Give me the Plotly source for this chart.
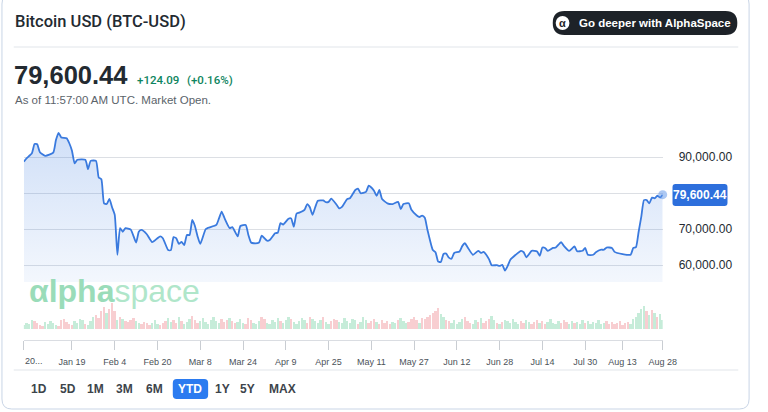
import numpy as np
import pandas as pd
import plotly.graph_objects as go

W, H = 768, 412

# price line (days after Jan 1)
day_offsets = [0, 1, 3, 4, 5, 6, 8, 11, 12, 13, 14, 16, 17, 18, 19, 20, 23, 24, 25, 27,
               28, 29, 30, 31, 32, 33, 34, 35, 36, 37, 38, 40, 42, 43, 44, 46, 48, 50, 51, 52,
               54, 55, 56, 57, 58, 59, 60, 61, 62, 63, 64, 65, 66, 68, 69, 72, 73, 74, 75, 77,
               78, 80, 81, 83, 84, 85, 86, 88, 89, 91, 92, 94, 95, 96, 97, 99, 100, 101, 102, 103,
               105, 106, 107, 108, 109, 110, 112, 113, 114, 115, 117, 118, 119, 121, 122, 124, 125, 126, 128, 129,
               130, 131, 132, 133, 134, 136, 138, 140, 141, 142, 144, 145, 147, 148, 149, 150, 151, 153, 154, 155,
               156, 157, 158, 159, 160, 161, 163, 164, 165, 166, 168, 170, 171, 172, 174, 175, 177, 178, 179, 180,
               181, 182, 184, 186, 187, 188, 190, 192, 193, 194, 195, 196, 198, 199, 201, 202, 204, 206, 207, 209,
               210, 211, 213, 214, 216, 217, 218, 220, 221, 224, 227, 228, 229, 230, 231, 232, 233, 234, 235, 236,
               237, 238, 239]
prices = [88780, 89700, 91100, 93700, 93600, 91400, 90400, 91300, 94800, 96800, 95500, 95300, 93900, 91800, 88300, 89300, 89300, 86700, 89000, 89000,
          84400, 83900, 77200, 77000, 78400, 76100, 74000, 62900, 70300, 69300, 70300, 69900, 66300, 69300, 69800, 68600, 66400, 67500, 68000, 67500,
          64200, 64200, 67800, 67500, 65900, 66500, 65600, 68400, 68400, 72600, 70900, 68000, 65900, 70000, 70400, 71200, 73000, 74900, 73200, 70300,
          70600, 68000, 70900, 71200, 68400, 66300, 66100, 66300, 68200, 66800, 67000, 68900, 69000, 71700, 71300, 72900, 73000, 70700, 74300, 74600,
          75400, 77000, 76100, 74000, 76100, 77900, 78000, 77500, 77600, 78500, 76800, 75800, 76200, 78400, 78600, 80900, 81300, 80000, 80400, 82100,
          81600, 80700, 79300, 80900, 78400, 77200, 77000, 77600, 75600, 77000, 77200, 75400, 73800, 73400, 73800, 73200, 69800, 64200, 63600, 61000,
          60900, 63100, 63200, 62100, 61800, 63400, 63800, 65300, 66100, 65000, 62900, 64000, 63400, 63700, 61700, 60000, 60000, 59800, 60100, 58500,
          59800, 61500, 62900, 64000, 63600, 62200, 64000, 63800, 62600, 64900, 64800, 64000, 64800, 64900, 66400, 65400, 64000, 65200, 63900, 64000,
          64800, 62900, 62900, 63600, 64300, 64300, 64900, 64800, 63700, 63100, 62900, 64800, 65000, 69300, 73500, 78100, 78100, 77200, 78800, 78600,
          79300, 78800, 79600.44]
assert len(day_offsets) == len(prices)

# daily volume bars (relative heights)
volume = [4, 6, 5, 9, 8, 6, 4, 3, 7, 5, 8, 6, 4, 3, 9, 10, 7, 5, 4, 8,
          6, 10, 9, 5, 4, 8, 12, 14, 11, 18, 22, 16, 20, 26, 18, 9, 12, 10, 8, 7,
          9, 11, 8, 6, 5, 7, 6, 4, 6, 9, 5, 4, 6, 8, 11, 7, 9, 6, 12, 8,
          5, 7, 10, 13, 9, 6, 8, 11, 7, 5, 9, 12, 8, 6, 10, 7, 9, 11, 8, 6,
          7, 10, 6, 5, 11, 9, 6, 5, 8, 12, 10, 6, 5, 9, 7, 11, 8, 6, 9, 12,
          10, 7, 5, 8, 11, 9, 6, 12, 10, 8, 6, 9, 12, 7, 5, 8, 10, 9, 7, 6,
          11, 8, 6, 10, 9, 5, 7, 12, 9, 6, 8, 10, 7, 5, 9, 6, 8, 5, 7, 6,
          9, 11, 8, 6, 7, 10, 12, 9, 6, 11, 10, 12, 14, 16, 18, 21, 15, 12, 9, 8,
          6, 9, 5, 7, 10, 12, 8, 6, 5, 9, 7, 11, 6, 8, 10, 13, 9, 6, 5, 7,
          9, 8, 6, 10, 7, 5, 8, 6, 9, 7, 5, 7, 9, 6, 8, 5, 7, 10, 6, 5,
          8, 6, 9, 7, 5, 8, 6, 7, 5, 9, 6, 8, 5, 7, 6, 9, 5, 6, 8, 5,
          7, 5, 6, 8, 4, 6, 7, 5, 10, 12, 16, 20, 23, 18, 14, 19, 16, 12, 15, 9]

tick_dates = ["2025-01-01", "2025-01-19", "2025-02-04", "2025-02-20", "2025-03-08", "2025-03-24",
              "2025-04-09", "2025-04-25", "2025-05-11", "2025-05-27", "2025-06-12", "2025-06-28",
              "2025-07-14", "2025-07-30", "2025-08-13", "2025-08-28"]
tick_text = ["", "Jan 19", "Feb 4", "Feb 20", "Mar 8", "Mar 24", "Apr 9", "Apr 25", "May 11",
             "May 27", "Jun 12", "Jun 28", "Jul 14", "Jul 30", "Aug 13", "Aug 28"]
grid_vals = [60000, 70000, 80000, 90000]
grid_text = ["60,000.00", "70,000.00", "", "90,000.00"]  # 80k label sits under the price tag

range_buttons = ["1D", "5D", "1M", "3M", "6M", "YTD", "1Y", "5Y", "MAX"]
button_x = [40, 69, 97, 127, 157, 194, 227, 252, 288]

last_price = prices[-1]

start = pd.Timestamp("2025-01-01")
dates = start + pd.to_timedelta(day_offsets, unit="D")
vol_dates = pd.date_range(start, periods=len(volume), freq="D")

# bar colour from the direction of the price line on that day
seg = np.clip(np.searchsorted(day_offsets, np.arange(len(volume)), side="right") - 1, 0, len(prices) - 2)
up = np.array(prices)[seg + 1] >= np.array(prices)[seg]
vol_colors = np.where(up, "#c6ecd9", "#f8ced1")


def px(x):
    return x / W


def py(y):
    return 1 - y / H


def rrect(x0, y0, x1, y1, r):
    X0, X1, Y0, Y1 = px(x0), px(x1), py(y0), py(y1)
    rx, ry = r / W, r / H
    return (f"M{X0 + rx},{Y0} L{X1 - rx},{Y0} Q{X1},{Y0} {X1},{Y0 - ry} "
            f"L{X1},{Y1 + ry} Q{X1},{Y1} {X1 - rx},{Y1} L{X0 + rx},{Y1} "
            f"Q{X0},{Y1} {X0},{Y1 + ry} L{X0},{Y0 - ry} Q{X0},{Y0} {X0 + rx},{Y0} Z")


fig = go.Figure()

fig.add_trace(go.Bar(
    x=vol_dates, y=volume, yaxis="y2",
    marker=dict(color=vol_colors, line_width=0),
    width=0.7 * 86400000,
))

fig.add_trace(go.Scatter(
    x=dates, y=prices, mode="lines",
    line=dict(color="#3a7ade", width=1.8, shape="spline", smoothing=0.5),
    fill="tozeroy",
    fillgradient=dict(type="vertical", start=55330, stop=97000,
                      colorscale=[[0, "rgba(59,123,224,0.06)"], [1, "rgba(59,123,224,0.24)"]]),
))

fig.add_trace(go.Scatter(
    x=[dates[-1]], y=[last_price], mode="markers", cliponaxis=False,
    marker=dict(size=9, color="rgba(90,145,232,0.5)"),
))

shapes = [
    dict(type="path", path=rrect(2, -6, 763, 409, 10), xref="paper", yref="paper",
         line=dict(color="#c9d5e6", width=1), layer="below"),
    dict(type="line", xref="paper", yref="paper", x0=px(14), x1=px(752), y0=py(47), y1=py(47),
         line=dict(color="#e1e5ea", width=1)),
    dict(type="line", xref="paper", yref="paper", x0=px(14), x1=px(752), y0=py(370), y1=py(370),
         line=dict(color="#e1e5ea", width=1)),
    dict(type="path", path=rrect(563, 11, 751, 35, 12), xref="paper", yref="paper",
         fillcolor="#1d2228", line_width=0),
    dict(type="circle", xref="paper", yref="paper", x0=px(566), x1=px(580), y0=py(30), y1=py(16),
         fillcolor="white", line_width=0),
    dict(type="path", path=rrect(176, 379, 212, 399, 4), xref="paper", yref="paper",
         fillcolor="#2b7bf0", line_width=0),
    # blue price tag on the right axis
    dict(type="path", path=rrect(685, 184, 741, 206, 3), xref="paper", yref="paper",
         fillcolor="#2d6fdc", line_width=0),
]

dark = "#232a31"
annotations = [
    dict(x=px(13), y=py(22), text="Bitcoin USD (BTC-USD)",
         font=dict(size=16.5, color=dark, family="Roboto", weight=500)),
    dict(x=px(12), y=py(75), text="<b>79,600.44</b>", font=dict(size=25.5, color=dark)),
    dict(x=px(137), y=py(80), text="+124.09", font=dict(size=11.5, color="#0e8560", family="Roboto", weight=500)),
    dict(x=px(188), y=py(80), text="(+0.16%)", font=dict(size=11.5, color="#0e8560", family="Roboto", weight=500)),
    dict(x=px(13), y=py(100), text="As of 11:57:00 AM UTC. Market Open.",
         font=dict(size=11.5, color="#5b636a")),
    dict(x=px(588), y=py(23), text="<b>Go deeper with AlphaSpace</b>",
         font=dict(size=11.5, color="white")),
    dict(x=px(573), y=py(23), xanchor="center", text="<b>α</b>", font=dict(size=11, color="#1d2228")),
    dict(x=px(28), y=py(291), text="<b>αlpha</b><span style='color:#b0e6ca'>space</span>",
         font=dict(size=32, color="#9adcb9")),
    dict(x=px(713), y=py(195), xanchor="center", text="<b>79,600.44</b>",
         font=dict(size=12, color="white")),
    dict(x=px(35), y=py(361), xanchor="center", text="20...",
         font=dict(size=9, color="#4b5259", family="Liberation Sans Narrow, Liberation Sans")),
]
for label, bx in zip(range_buttons, button_x):
    annotations.append(dict(
        x=px(bx), y=py(389), xanchor="center", text=f"<b>{label}</b>",
        font=dict(size=12, color="white" if label == "YTD" else "#3d444b")))
for a in annotations:
    a.setdefault("xref", "paper")
    a.setdefault("yref", "paper")
    a.setdefault("xanchor", "left")
    a.setdefault("yanchor", "middle")
    a.setdefault("showarrow", False)

fig.update_layout(
    width=W, height=H, autosize=False,
    margin=dict(l=0, r=0, t=0, b=0),
    paper_bgcolor="white", plot_bgcolor="rgba(0,0,0,0)",
    font=dict(family="Liberation Sans, Arial, sans-serif", color=dark),
    showlegend=False, hovermode=False, bargap=0,
    xaxis=dict(
        domain=[px(24.3), px(675)], range=["2025-01-01", "2025-08-28"], type="date",
        anchor="y2", showgrid=False, zeroline=False,
        showline=True, linecolor="#dadde2", linewidth=1,
        tickvals=tick_dates, ticktext=tick_text,
        ticks="outside", ticklen=9, tickcolor="#c9cdd2", tickwidth=1,
        ticklabelstandoff=4,
        tickfont=dict(size=9, color="#4b5259", family="Liberation Sans Narrow, Liberation Sans"),
    ),
    yaxis=dict(
        domain=[py(282), py(120)], range=[55330, 100360], anchor="x", side="right",
        tickvals=grid_vals, ticktext=grid_text, ticks="",
        showgrid=True, gridcolor="#dcdfe4", gridwidth=1, zeroline=False,
        ticklabelstandoff=15, tickfont=dict(size=12, color=dark),
    ),
    yaxis2=dict(domain=[py(340), py(298)], range=[-11.3, 30.7], anchor="x", visible=False),
    shapes=shapes, annotations=annotations,
)

# the page's default 8px body margin would push the 768x412 figure off the window
fig.write_html("out.html", config={"responsive": False, "displayModeBar": False},
               post_script="document.body.style.margin='0';document.body.style.overflow='hidden';")
